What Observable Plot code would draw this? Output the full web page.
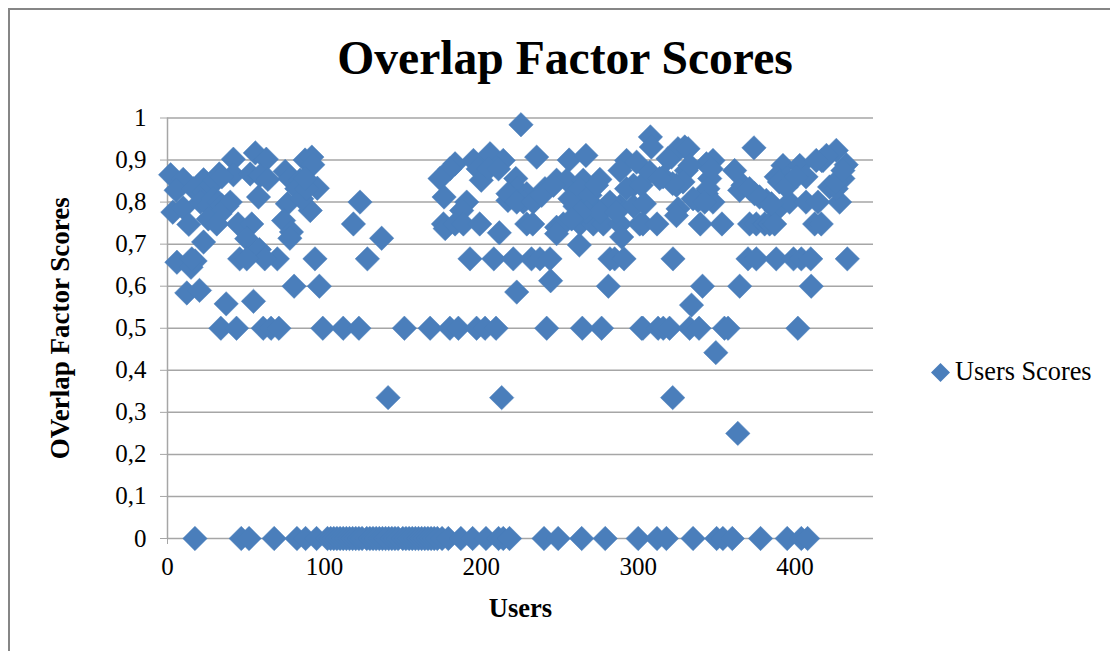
<!DOCTYPE html>
<html>
<head>
<meta charset="utf-8">
<script src="https://cdn.jsdelivr.net/npm/d3@7"></script>
<script src="https://cdn.jsdelivr.net/npm/@observablehq/plot@0.6"></script>
<style>
html,body{margin:0;padding:0;background:#fff;}
#chart{position:relative;width:1110px;height:651px;overflow:hidden;font-family:"Liberation Serif",serif;color:#000;}
#frame{position:absolute;left:8px;top:8px;width:1200px;height:800px;border:2px solid #868686;box-sizing:border-box;}
#title{position:absolute;left:0;width:1130px;top:30px;text-align:center;font-size:47.6px;font-weight:bold;line-height:56px;}
#legend{position:absolute;left:931px;top:357px;display:flex;align-items:center;font-size:26.3px;line-height:30px;white-space:nowrap;}
#legend svg{margin-right:5px;}
#plot{position:absolute;left:0;top:0;}
</style>
</head>
<body>
<div id="chart">
<div id="plot"></div>
<div id="frame"></div>
<div id="title">Overlap Factor Scores</div>
<div id="legend"><svg width="19" height="19" viewBox="-9.5 -9.5 19 19"><path d="M0,-9.5L9.5,0L0,9.5L-9.5,0Z" fill="#4a7ebb"/></svg><span>Users Scores</span></div>
</div>
<script>
const chartTitle = "Overlap Factor Scores";
const seriesName = "Users Scores";
const xLabel = "Users";
const yLabel = "OVerlap Factor Scores";
const xTicks = [0,100,200,300,400];
const yTicks = [0,0.1,0.2,0.3,0.4,0.5,0.6,0.7,0.8,0.9,1];

const blobUsers = [2,10,5.5,3.4,10,13.6,23,33,42,56,63,42,52.7,59,64,75,78,84.5,87.7,92,92.6,95.5,58,82.4,91,76.4,74,79,78,122.7,118.5,136.5,23,6,15,17.6,12.3,20.4,37.4,54.8,80.7,96.8,45,53.7,50.5,58.6,
16.6,23,28,30,21,26,29,32.5,40,34.6,37.8,33.5,26,31.4,34.6,85.6,88.7,87.7];
const blobScores = [.865,.854,.828,.776,.786,.747,.853,.867,.902,.917,.902,.865,.867,.863,.854,.873,.856,.852,.9,.907,.889,.833,.812,.832,.78,.796,.756,.729,.714,.8,.748,.714,.705,.657,.645,.66,.584,.59,.558,.564,.6,.6,.748,.748,.713,.687,
.832,.824,.84,.852,.8,.792,.808,.8,.8,.792,.79,.772,.76,.748,.86,.808,.832,.856];

const midUsers = [225.3,183.3,180,173.7,176.3,195,205.6,214,198,200,204.5,211,235.3,256,266.7,222,217,222.6,229,234,240.6,248,254.4,265,275.6,217,226.8,190.7,187.5,175.9,177,183.3,188.6,199,211.5,229,232.8,248,252.3,248,259.7,263,269.3,271.4,277.8,280,288.4,288.4,289.5,297,301,262.5,292.6,288.4,299,297,292.6,302,
222.6,233,238.5,246,256.5,263,269.3,273.5,282,267,275.6,286,263,257.6,244.2,222.6,281];
const midScores = [.984,.891,.879,.856,.812,.899,.915,.899,.879,.852,.879,.879,.907,.9,.911,.856,.804,.832,.82,.804,.832,.852,.852,.852,.854,.82,.8,.8,.78,.748,.737,.748,.748,.748,.727,.748,.748,.74,.748,.725,.79,.748,.8,.748,.748,.79,.79,.748,.717,.79,.748,.698,.899,.875,.895,.84,.832,.84,
.8,.8,.816,.84,.808,.832,.816,.84,.8,.776,.776,.776,.776,.76,.613,.586,.6];

const rightUsers = [307.8,308.4,321.2,325.4,329.7,331.8,347.7,343.5,373.8,392.3,403,417.8,426.3,432.6,388,407,394.4,361.5,366.8,364.7,374.2,381.7,388,307.4,315.9,324.4,330.7,345.6,338.2,343.5,347.7,325.4,324.4,304,396.5,407,414.6,428.4,422,430.5,426.3,
303,312,339.6,353.4,371,375.3,380.6,383.8,387,412.5,416.7,341,364.7,410.3,334,349.5,363.5,
371,377.4,385,390,394.4,400.8,417,420,413.5,426,430.5,319,333,328.6,322,313.7,346.6,344.5,335,342.4];
const rightScores = [.955,.931,.907,.927,.931,.927,.899,.891,.929,.887,.887,.899,.923,.889,.86,.86,.856,.875,.84,.828,.82,.804,.78,.871,.86,.84,.875,.856,.804,.82,.8,.784,.768,.796,.8,.8,.8,.8,.836,.856,.832,
.748,.748,.748,.748,.748,.748,.748,.748,.748,.748,.748,.6,.6,.6,.555,.442,.25,
.832,.812,.796,.848,.836,.86,.899,.911,.899,.848,.875,.903,.887,.848,.844,.856,.879,.832,.808,.8];

const twoThirdsUsers = [127.4,15.5,94,70,62,46,50.5,192.8,208,220.4,232,237.4,243.8,282,285,291,322.2,370,375.3,388,399,404,410,433.3];
const halfUsers = [34,44,61,66,71,99,112,122,151,167.4,180,185.4,197,202.4,209.4,241.7,264.4,276.7,302.2,303,312.7,316,320,332.8,338.8,355,357.3,401.8];
const thirdUsers = [140.6,213,322];
const zeroUsers = [17.5,47,52,68,82.5,88,95,102,104,106,108,110,112,114,116,118,120,122,124,127,129,131,133,135,137,139,141,143,145,147,150,152,154,156,158,160,162,164,166,168,170,172,175,179,187,194.5,203,211,214,218,240,249,264,279,300,312,318,335,350,354,360,378,395,404,408];

const points = [
  ...blobUsers.map((u,i)=>({user:u,score:blobScores[i]})),
  ...midUsers.map((u,i)=>({user:u,score:midScores[i]})),
  ...rightUsers.map((u,i)=>({user:u,score:rightScores[i]})),
  ...twoThirdsUsers.map(u=>({user:u,score:0.665})),
  ...halfUsers.map(u=>({user:u,score:0.5})),
  ...thirdUsers.map(u=>({user:u,score:0.335})),
  ...zeroUsers.map(u=>({user:u,score:0}))
];
const fmt = d => String(d).replace(".", ",");
const gray = "#a6a6a6";
const p = Plot.plot({
  width:1110, height:651,
  marginLeft:167, marginRight:237, marginTop:117.5, marginBottom:113,
  style:{fontFamily:"Liberation Serif, serif", background:"transparent", color:"#000", overflow:"visible"},
  x:{domain:[0,450], ticks:xTicks, label:null},
  y:{domain:[0,1], ticks:yTicks, label:null},
  marks:[
    Plot.gridY(yTicks,{stroke:gray,strokeOpacity:1,strokeWidth:1.5}),
    Plot.ruleX([0],{stroke:gray,strokeWidth:1.5}),
    Plot.axisY(yTicks,{tickSize:7,tickPadding:14,stroke:gray,tickFormat:fmt,fontSize:25,fill:"#000",label:null}),
    Plot.axisX(xTicks,{tickSize:6,tickPadding:13,stroke:gray,fontSize:25,fill:"#000",label:null}),
    Plot.axisY([], {label:yLabel,labelAnchor:"center",labelArrow:"none",labelOffset:118,fontSize:27,fontWeight:"bold",fill:"#000"}),
    Plot.axisX([], {label:xLabel,labelAnchor:"center",labelArrow:"none",labelOffset:78,fontSize:26.5,fontWeight:"bold",fill:"#000"}),
    Plot.dot(points,{x:"user",y:"score",symbol:"diamond2",r:11,fill:"#4a7ebb",stroke:"#4a7ebb",strokeWidth:0.5})
  ]
});
document.getElementById("plot").appendChild(p);
document.getElementById("title").textContent = chartTitle;
document.querySelector("#legend span").textContent = seriesName;
</script>
</body>
</html>
